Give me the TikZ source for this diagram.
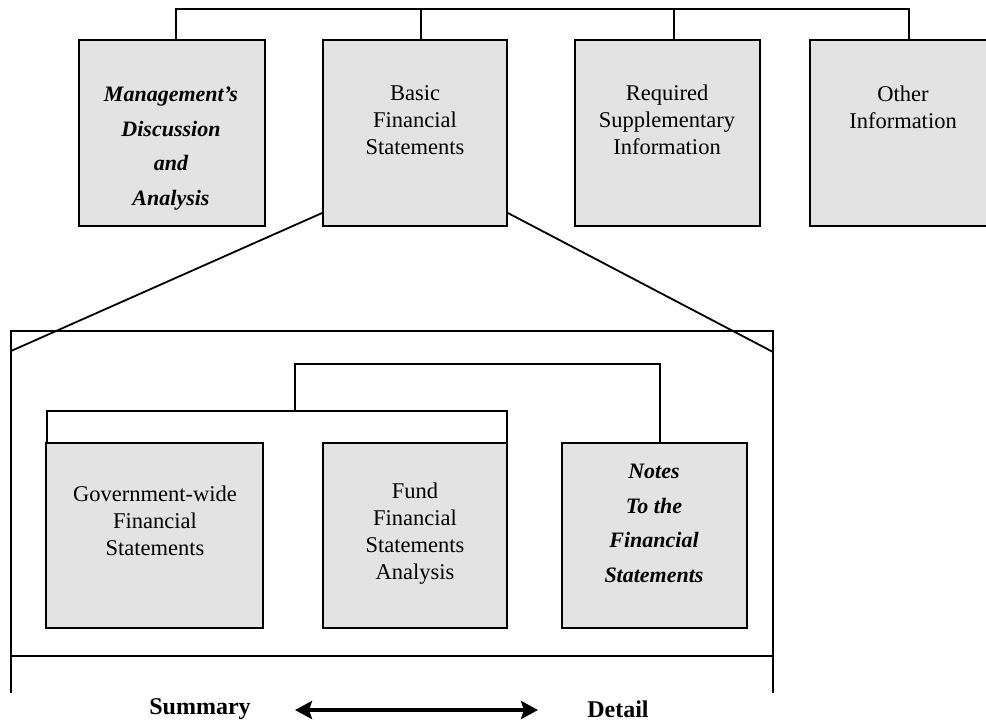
\documentclass[tikz,border=0pt]{standalone}
\usepackage{fontspec}
\setmainfont{Liberation Serif}
\usetikzlibrary{arrows.meta}
\begin{document}
\begin{tikzpicture}[x=1pt,y=-1pt,
  box/.style={draw=black, line width=1.8pt, fill=black!11, rectangle, inner sep=0pt},
  conn/.style={draw=black, line width=1.8pt},
  txt/.style={align=center, inner sep=0pt, font=\fontsize{22.5}{27}\selectfont},
  scr/.style={align=center, inner sep=0pt, font=\fontsize{22}{34.5}\selectfont\bfseries\itshape},
  lbl/.style={inner sep=0pt, font=\fontsize{24}{28}\selectfont\bfseries}]
\useasboundingbox (0,0) rectangle (986,724);
% top row boxes
\node[box, minimum width=186pt, minimum height=186pt] (mda) at (172,133) {};
\node[box, minimum width=184pt, minimum height=186pt] (bfs) at (415,133) {};
\node[box, minimum width=185pt, minimum height=186pt] (rsi) at (667.5,133) {};
\node[box, minimum width=186pt, minimum height=186pt] (oth) at (903,133) {};
\node[scr] (mdat) at (171,148.5) {Management's\\Discussion\\and\\Analysis};
\node[txt] (bfst) at (415,120) {Basic\\Financial\\Statements};
\node[txt] (rsit) at (667,120) {Required\\Supplementary\\Information};
\node[txt] (otht) at (903,107) {Other\\Information};
% top connector
\coordinate (t1) at (176,9);
\coordinate (t4) at (909,9);
\draw[conn] (mda.north -| t1) -- (t1) -- (t4) -- (oth.north -| t4);
\draw[conn] (bfs.north) ++(6,0) coordinate (bt) -- (bt |- t1);
\draw[conn] (rsi.north) ++(6.5,0) coordinate (rt) -- (rt |- t1);
% outer frame
\coordinate (fl) at (11,331);
\coordinate (fr) at (773,331);
\coordinate (fbl) at (11,693);
\coordinate (fbr) at (773,693);
\coordinate (hl) at (11,656);
\coordinate (hr) at (773,656);
\draw[conn] (fbl) -- (fl) -- (fr) -- (fbr);
\draw[conn] (hl) -- (hr);
% diagonals
\coordinate (dl) at (11,351);
\coordinate (dr) at (773,352);
\draw[conn] (bfs.west |- 0,213) -- (dl);
\draw[conn] (bfs.east |- 0,213) -- (dr);
% lower boxes
\node[box, minimum width=217pt, minimum height=185pt] (gov) at (154.5,535.5) {};
\node[box, minimum width=184pt, minimum height=185pt] (fund) at (415,535.5) {};
\node[box, minimum width=185pt, minimum height=185pt] (notes) at (654.5,535.5) {};
\node[txt] (govt) at (155,521) {Government-wide\\Financial\\Statements};
\node[txt] (fundt) at (415,534) {Fund\\Financial\\Statements\\Analysis};
\node[scr] (notest) at (654,523.5) {Notes\\To the\\Financial\\Statements};
% inner connectors
\coordinate (b1) at (47,411);
\coordinate (b2) at (507,411);
\coordinate (bc) at (295,411);
\coordinate (c1) at (295,364);
\coordinate (c2) at (660,364);
\draw[conn] (gov.north -| b1) -- (b1) -- (b2) -- (fund.north -| b2);
\draw[conn] (bc) -- (c1) -- (c2) -- (notes.north -| c2);
% bottom scale
\node[lbl] (sum) at (200,709) {Summary};
\node[lbl] (det) at (618,709) {Detail};
\coordinate (a1) at (295,710);
\coordinate (a2) at (538,710);
\draw[line width=4.5pt, {Stealth[length=17pt,width=18pt,inset=3pt]}-{Stealth[length=17pt,width=18pt,inset=3pt]}] (a1) -- (a2);
\end{tikzpicture}
\end{document}
